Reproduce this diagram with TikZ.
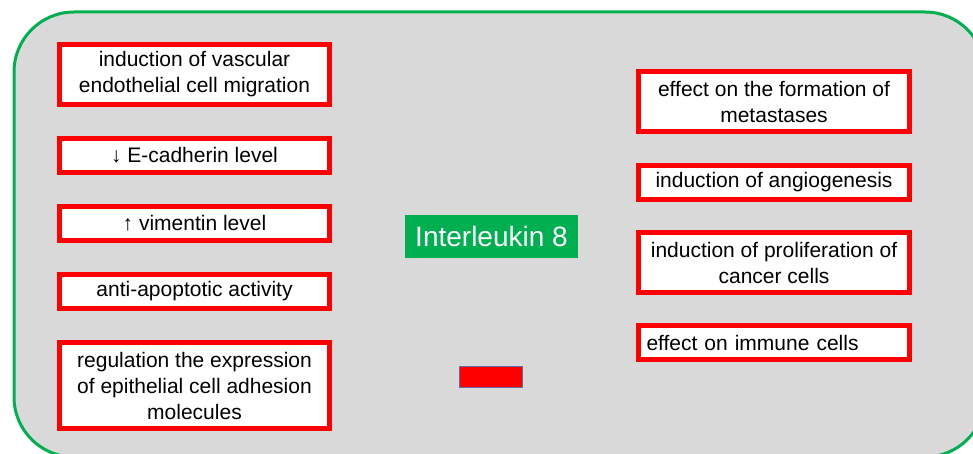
\documentclass[tikz,border=0pt]{standalone}
\usepackage{fontspec}
\setmainfont{Liberation Sans}
\usetikzlibrary{positioning}
\definecolor{pptgreen}{RGB}{0,176,80}
\definecolor{pptgrey}{RGB}{217,217,217}
\definecolor{rimblue}{RGB}{96,110,160}

\begin{document}
\begin{tikzpicture}[x=1pt,y=-1pt,node distance=29pt and 29pt, box/.style={draw=red,line width=5pt,fill=white,minimum width=270pt,minimum height=34pt,inner xsep=6pt,inner ysep=2pt,align=center,font=\fontsize{21}{26}\selectfont}, hub/.style={fill=pptgreen,text=white,minimum width=173pt,minimum height=43pt,inner sep=0pt,font=\fontsize{28}{32}\selectfont}]
\useasboundingbox (0,0) rectangle (973,454);
\clip (0,0) rectangle (973,454);
\fill[white] (0,0) rectangle (973,454);
\draw[draw=pptgreen,line width=3pt,fill=pptgrey,rounded corners=60pt] (14,12) rectangle (985,457);
\node[box,minimum height=60pt] (vasc) at (194.5,74.5) {induction of vascular\\endothelial cell migration};
\node[box,below=of vasc] (ecad) {↓ E-cadherin level};
\node[box,below=of ecad] (vim) {↑ vimentin level};
\node[box,below=of vim] (apop) {anti-apoptotic activity};
\node[box,below=of apop,minimum height=86pt] (adh) {regulation the expression\\of epithelial cell adhesion\\molecules};
\node[box,minimum width=271pt,minimum height=60pt] (meta) at (774,101.5) {effect on the formation of\\metastases};
\node[box,minimum width=271pt,below=of meta] (angio) {induction of angiogenesis};
\node[box,minimum width=271pt,minimum height=60pt,below=28pt of angio] (prolif) {induction of proliferation of\\cancer cells};
\node[box,minimum width=271pt,below=28pt of prolif,align=left,text width=255pt,inner xsep=8pt] (immune) {effect on immune cells};
\node[hub] (il8) at (491.5,236.5) {Interleukin 8};
\node[draw=rimblue,line width=0.8pt,fill=red,minimum width=63pt,minimum height=21pt,inner sep=0pt] (redbar) at (490.5,376.5) {};
\end{tikzpicture}
\end{document}
